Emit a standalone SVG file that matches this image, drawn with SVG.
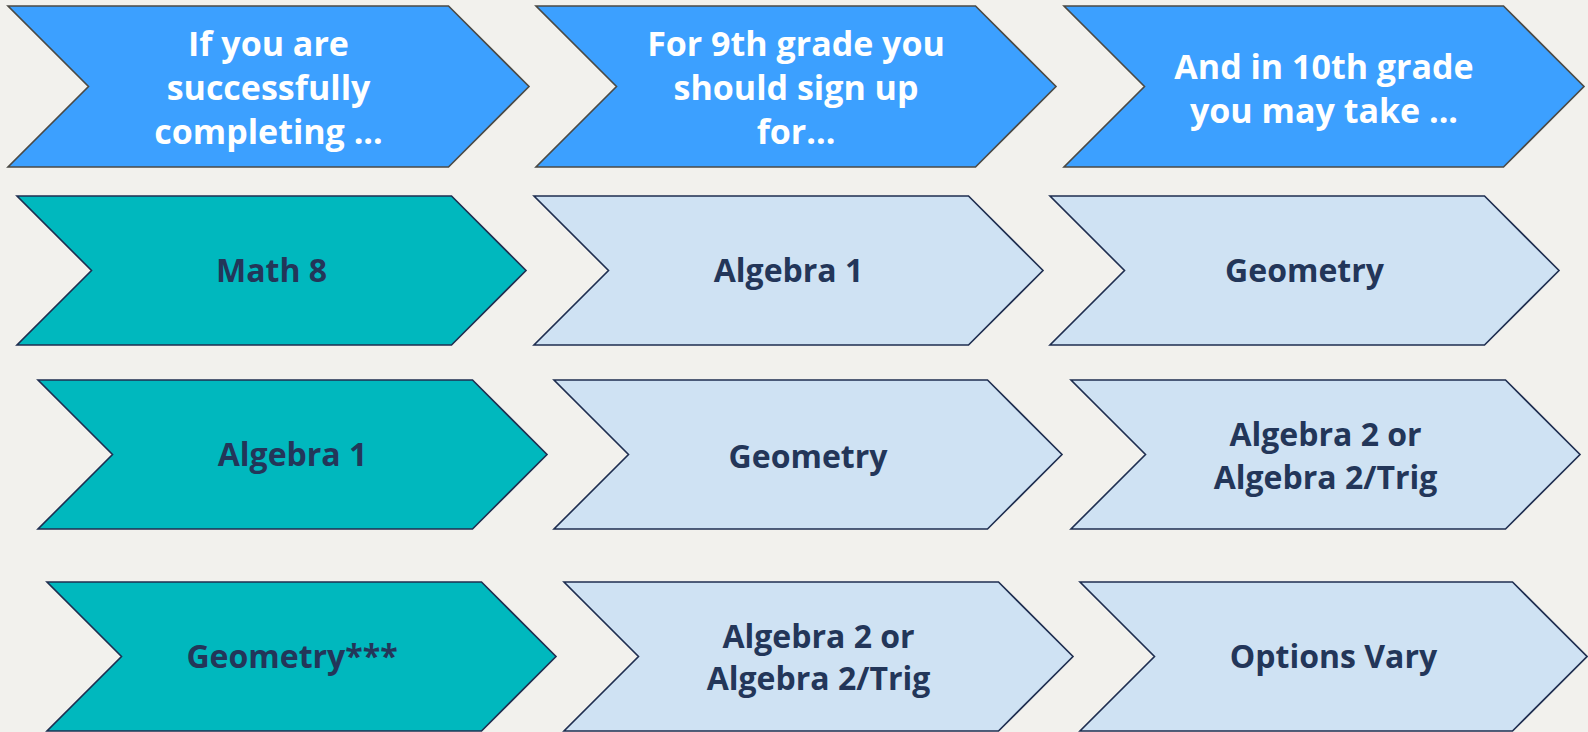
<svg xmlns="http://www.w3.org/2000/svg" width="1588" height="732" viewBox="0 0 1588 732">
<style>
.hdr{fill:#3CA0FF;stroke:#4B4A45;stroke-width:1.6}
.src{fill:#00B8BE;stroke:#1F2E50;stroke-width:1.6}
.dst{fill:#CFE2F3;stroke:#1F2E50;stroke-width:1.6}
.th{font-family:"Open Sans","Liberation Sans",sans-serif;font-weight:700;font-size:34px;fill:#FFFFFF;text-anchor:middle}
.tn{font-family:"Open Sans","Liberation Sans",sans-serif;font-weight:700;font-size:32px;fill:#233659;text-anchor:middle}
</style>
<rect x="0" y="0" width="1588" height="732" fill="#F2F1ED"/>
<g id="connectors"/>
<g id="h1">
<polygon class="hdr" points="8,6 448.5,6 529,86.5 448.5,167 8,167 88.5,86.5"/>
<text class="th" x="268.5" y="56">If you are</text>
<text class="th" x="268.5" y="100">successfully</text>
<text class="th" x="268.5" y="144">completing ...</text>
</g>
<g id="h2">
<polygon class="hdr" points="536,6 975.5,6 1056,86.5 975.5,167 536,167 616.5,86.5"/>
<text class="th" x="796" y="56">For 9th grade you</text>
<text class="th" x="796" y="100">should sign up</text>
<text class="th" x="796" y="144">for...</text>
</g>
<g id="h3">
<polygon class="hdr" points="1064,6 1503.5,6 1584,86.5 1503.5,167 1064,167 1144.5,86.5"/>
<text class="th" x="1324" y="78.5">And in 10th grade</text>
<text class="th" x="1324" y="122.5">you may take ...</text>
</g>
<g id="r1c1">
<polygon class="src" points="17,196 451.5,196 526,270.5 451.5,345 17,345 91.5,270.5"/>
<text class="tn" x="271.5" y="282">Math 8</text>
</g>
<g id="r1c2">
<polygon class="dst" points="534,196 968.5,196 1043,270.5 968.5,345 534,345 608.5,270.5"/>
<text class="tn" x="788.5" y="282">Algebra 1</text>
</g>
<g id="r1c3">
<polygon class="dst" points="1050,196 1484.5,196 1559,270.5 1484.5,345 1050,345 1124.5,270.5"/>
<text class="tn" x="1304.5" y="282">Geometry</text>
</g>
<g id="r2c1">
<polygon class="src" points="38,380 472.5,380 547,454.5 472.5,529 38,529 112.5,454.5"/>
<text class="tn" x="292.5" y="466">Algebra 1</text>
</g>
<g id="r2c2">
<polygon class="dst" points="554,380 987.5,380 1062,454.5 987.5,529 554,529 628.5,454.5"/>
<text class="tn" x="808" y="468">Geometry</text>
</g>
<g id="r2c3">
<polygon class="dst" points="1071,380 1505.5,380 1580,454.5 1505.5,529 1071,529 1145.5,454.5"/>
<text class="tn" x="1325.5" y="446">Algebra 2 or</text>
<text class="tn" x="1325.5" y="489">Algebra 2/Trig</text>
</g>
<g id="r3c1">
<polygon class="src" points="47,582 481.5,582 556,656.5 481.5,731 47,731 121.5,656.5"/>
<text class="tn" x="292" y="668">Geometry***</text>
</g>
<g id="r3c2">
<polygon class="dst" points="564,582 998.5,582 1073,656.5 998.5,731 564,731 638.5,656.5"/>
<text class="tn" x="818.5" y="648">Algebra 2 or</text>
<text class="tn" x="818.5" y="690">Algebra 2/Trig</text>
</g>
<g id="r3c3">
<polygon class="dst" points="1080,582 1512.5,582 1587,656.5 1512.5,731 1080,731 1154.5,656.5"/>
<text class="tn" x="1333.5" y="668">Options Vary</text>
</g>
</svg>
